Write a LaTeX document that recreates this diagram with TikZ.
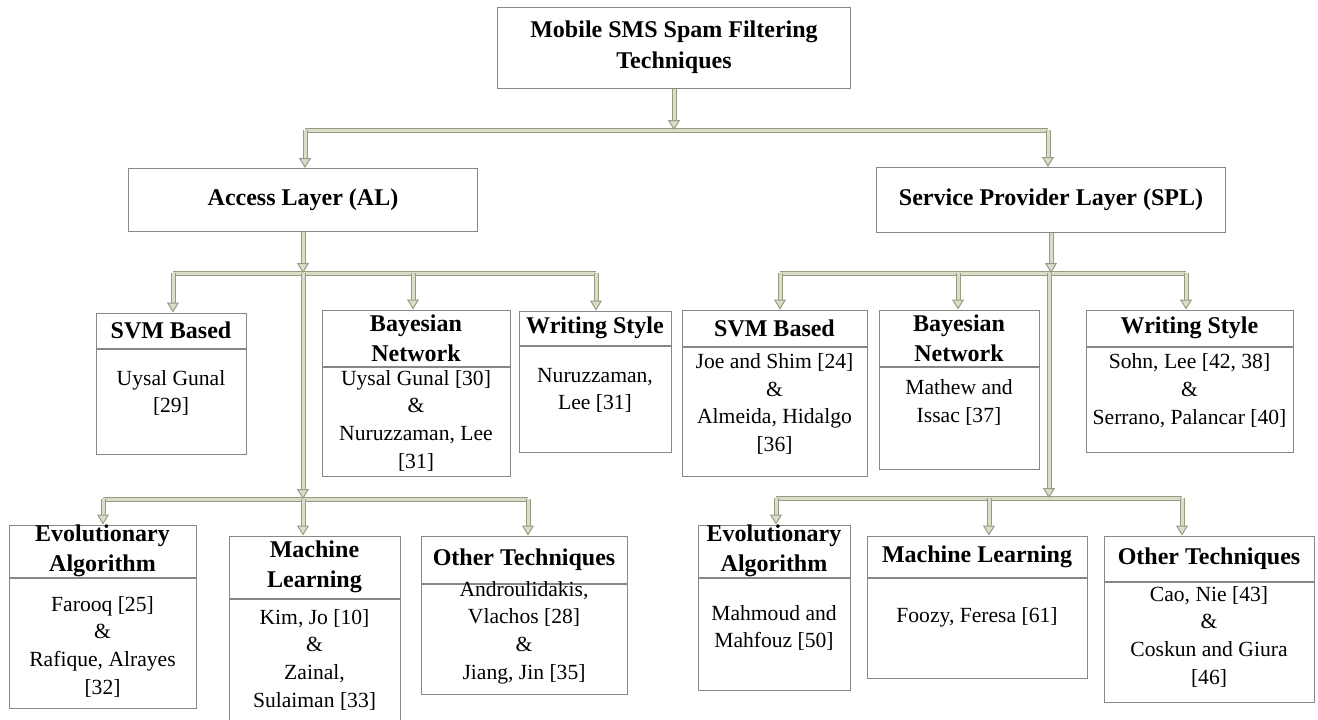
\documentclass[tikz,border=0pt]{standalone}
\usepackage{fontspec}
\setmainfont{Liberation Serif}
\usepackage{tikz}
\usetikzlibrary{arrows.meta}
\usetikzlibrary{positioning}
\definecolor{lnD}{RGB}{150,156,130}
\definecolor{lnL}{RGB}{218,222,200}
\definecolor{bxC}{RGB}{135,135,135}

\begin{document}
\begin{tikzpicture}[x=1pt, y=-1pt,
  hd/.style={rectangle, draw = bxC, line width=1pt, inner sep=0pt, align=center, font=\bfseries\fontsize{24}{30}\selectfont},
  bd/.style={rectangle, draw = bxC, line width=1pt, inner sep=0pt, anchor=north},
  tx/.style={inner sep=0pt, align=center, font=\fontsize{21.6}{27.7}\selectfont},
  pipe/.style={draw = lnD, line width=1pt, double = lnL, double distance=3pt},
  conn/.style={pipe, -{Triangle[width=12pt, length=10pt, color=lnD, fill=lnL, line width=1pt]}}]
\useasboundingbox (0,0) rectangle (1318,720);

% root and the two layers
\draw (674,47.5) node[hd, name = root, minimum width=353, minimum height=81, font=\bfseries\fontsize{24}{31}\selectfont]{Mobile SMS Spam Filtering\\Techniques};
\draw (303,200) node[hd, name = al, minimum width=349, minimum height=63]{Access Layer (AL)};
\draw (1051,200) node[hd, name = spl, minimum width=349, minimum height=65]{Service Provider Layer (SPL)};

\coordinate (j0) at (674,130);
\coordinate (j0l) at (305,130);
\coordinate (j0r) at (1048,130);
\draw[pipe] (j0l) -- (j0r);
\draw[conn] (root) -- (j0);
\draw[conn] (j0l) -- (j0l |- al.north);
\draw[conn] (j0r) -- (j0r |- spl.north);

% access layer, first row
\draw (171,330.5) node[hd, name = svmA, minimum width=150, minimum height=35]{SVM Based};
\draw (svmA.south) node[bd, name = svmAb, minimum width=150, minimum height=105]{};
\draw (svmA.south) + (0,44.5) node[tx, name = svmAt]{Uysal Gunal\\{}[29]};
\draw (416,338) node[hd, name = bayA, minimum width=188, minimum height=56]{Bayesian\\Network};
\draw (bayA.south) node[bd, name = bayAb, minimum width=188, minimum height=109]{};
\draw (bayA.south) + (0,54) node[tx, name = bayAt]{Uysal Gunal [30]\\\&\\Nuruzzaman, Lee\\{}[31]};
\draw (595,328) node[hd, name = wsA, minimum width=152, minimum height=34]{Writing Style};
\draw (wsA.south) node[bd, name = wsAb, minimum width=152, minimum height=106]{};
\draw (wsA.south) + (0,45) node[tx, name = wsAt]{Nuruzzaman,\\Lee [31]};

\coordinate (j1) at (303,273);
\coordinate (j1l) at (173,273);
\coordinate (j1m) at (413,273);
\coordinate (j1r) at (596,273);
\coordinate (j2) at (303,499);
\draw[pipe] (j1l) -- (j1r);
\draw[conn] (al) -- (al |- j1);
\draw[conn] (j1l) -- (j1l |- svmA.north);
\draw[conn] (j1m) -- (j1m |- bayA.north);
\draw[conn] (j1r) -- (j1r |- wsA.north);

% access layer, second row
\draw (102.5,551) node[hd, name = evoA, minimum width=187, minimum height=52]{Evolutionary\\Algorithm};
\draw (evoA.south) node[bd, name = evoAb, minimum width=187, minimum height=130]{};
\draw (evoA.south) + (0,69) node[tx, name = evoAt]{Farooq [25]\\\&\\Rafique, Alrayes\\{}[32]};
\draw (314.5,567) node[hd, name = mlA, minimum width=171, minimum height=62]{Machine\\Learning};
\draw (mlA.south) node[bd, name = mlAb, minimum width=171, minimum height=123]{};
\draw (mlA.south) + (0,61) node[tx, name = mlAt]{Kim, Jo [10]\\\&\\Zainal,\\Sulaiman [33]};
\draw (524,559.5) node[hd, name = othA, minimum width=206, minimum height=47]{Other Techniques};
\draw (othA.south) node[bd, name = othAb, minimum width=206, minimum height=110]{};
\draw (othA.south) + (0,49) node[tx, name = othAt]{Androulidakis,\\Vlachos [28]\\\&\\Jiang, Jin [35]};

\coordinate (j2l) at (103,499);
\coordinate (j2r) at (528,499);
\draw[pipe] (j2l) -- (j2r);
\draw[conn] (j1) -- (j2);
\draw[conn] (j2l) -- (j2l |- evoA.north);
\draw[conn] (j2) -- (j2 |- mlA.north);
\draw[conn] (j2r) -- (j2r |- othA.north);

% service provider layer, first row
\draw (774.5,328) node[hd, name = svmB, minimum width=185, minimum height=36]{SVM Based};
\draw (svmB.south) node[bd, name = svmBb, minimum width=185, minimum height=129]{};
\draw (svmB.south) + (0,57.5) node[tx, name = svmBt]{Joe and Shim [24]\\\&\\Almeida, Hidalgo\\{}[36]};
\draw (959,338) node[hd, name = bayB, minimum width=160, minimum height=56]{Bayesian\\Network};
\draw (bayB.south) node[bd, name = bayBb, minimum width=160, minimum height=102]{};
\draw (bayB.south) + (0,36) node[tx, name = bayBt]{Mathew and\\Issac [37]};
\draw (1189.5,328) node[hd, name = wsB, minimum width=207, minimum height=36]{Writing Style};
\draw (wsB.south) node[bd, name = wsBb, minimum width=207, minimum height=105]{};
\draw (wsB.south) + (0,44) node[tx, name = wsBt]{Sohn, Lee [42, 38]\\\&\\Serrano, Palancar [40]};

\coordinate (j3) at (1049,273);
\coordinate (j3l) at (780,273);
\coordinate (j3m) at (958,273);
\coordinate (j3r) at (1186,273);
\coordinate (j4) at (1049,498);
\draw[pipe] (j3l) -- (j3r);
\draw[conn] (spl) -- (spl |- j3);
\draw[conn] (j3l) -- (j3l |- svmB.north);
\draw[conn] (j3m) -- (j3m |- bayB.north);
\draw[conn] (j3r) -- (j3r |- wsB.north);

% service provider layer, second row
\draw (774,551) node[hd, name = evoB, minimum width=152, minimum height=52]{Evolutionary\\Algorithm};
\draw (evoB.south) node[bd, name = evoBb, minimum width=152, minimum height=112]{};
\draw (evoB.south) + (0,50.5) node[tx, name = evoBt]{Mahmoud and\\Mahfouz [50]};
\draw (977,556.5) node[hd, name = mlB, minimum width=220, minimum height=41]{Machine Learning};
\draw (mlB.south) node[bd, name = mlBb, minimum width=220, minimum height=100]{};
\draw (mlB.south) + (0,40) node[tx, name = mlBt]{Foozy, Feresa [61]};
\draw (1209,558.5) node[hd, name = othB, minimum width=210, minimum height=45]{Other Techniques};
\draw (othB.south) node[bd, name = othBb, minimum width=210, minimum height=120]{};
\draw (othB.south) + (0,55) node[tx, name = othBt]{Cao, Nie [43]\\\&\\Coskun and Giura\\{}[46]};

\coordinate (j4l) at (776,498);
\coordinate (j4m) at (989,498);
\coordinate (j4r) at (1182,498);
\draw[pipe] (j4l) -- (j4r);
\draw[conn] (j3) -- (j4);
\draw[conn] (j4l) -- (j4l |- evoB.north);
\draw[conn] (j4m) -- (j4m |- mlB.north);
\draw[conn] (j4r) -- (j4r |- othB.north);
\end{tikzpicture}
\end{document}
